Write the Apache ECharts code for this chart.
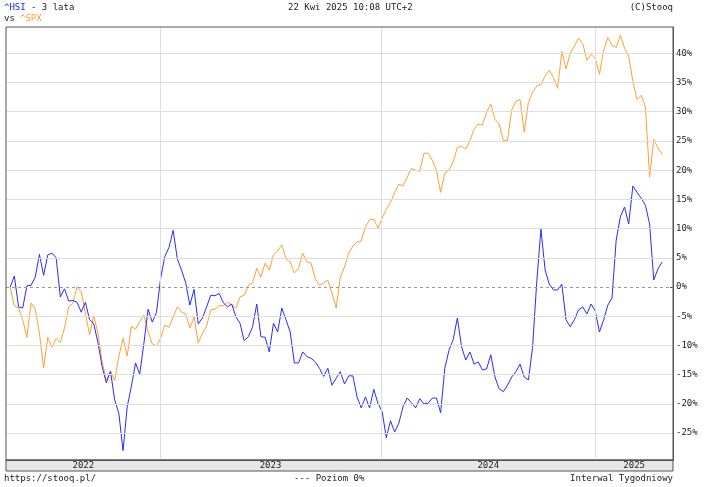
<!DOCTYPE html>
<html>
<head>
<meta charset="utf-8">
<script src="https://cdn.jsdelivr.net/npm/echarts@6/dist/echarts.min.js"></script>
<style>
  html, body { margin: 0; padding: 0; background: #fff; }
  #chart { width: 706px; height: 487px; }
</style>
</head>
<body>
<div id="chart"></div>
<script>
// weekly % change, Apr 2022 .. Apr 2025
const hsi = [
  0, 1.9, -3.4, -3.6, 0.2, 0.3, 1.7, 5.6, 2, 5.5, 5.8, 5, -1.7, -0.3, -2.4, -2.3, -2.6, -4.3, -2.6, -5.6,
  -6.3, -9.5, -13.6, -16.4, -14.4, -19.3, -21.6, -28, -20.5, -17, -13, -14.9, -9.6, -3.8, -6, -4.4, 1.5, 5.2, 6.8, 9.7,
  4.8, 2.9, 0.7, -3.1, -0.4, -6.3, -5.3, -3.4, -1.4, -1.5, -1.1, -2.7,
  -3.4, -2.9, -5.1, -6.2, -9.2, -8.5, -6.8, -2.9, -8.5, -8.6, -11.1, -6.2, -7.7, -3.6, -5.6, -7.7, -13, -13, -11.1, -11.9,
  -12.2, -12.8, -13.9, -15.3, -13.9, -16.8, -15.6, -14.5, -16.6, -15.2, -15.2, -18.8, -20.7, -18.8, -20.7, -17.5, -19.9, -21.3, -25.8, -22.9,
  -24.8, -23.3, -20.5, -19, -19.8, -20.7, -19.1, -20, -19.9, -19, -19, -21.5, -13.9, -10.8, -9, -5.3, -10.2, -12.5,
  -11.1, -13.2, -12.8, -14.2, -14, -11.6, -15.4, -17.4, -17.9, -16.8, -15.4, -14.5, -13.2, -15.4, -15.9, -10.3, 0.9, 9.9, 2.9, 0.5,
  -0.5, -0.5, 0.5, -5.6, -6.8, -5.6, -3.9, -3.4, -4.6, -2.9, -4.1, -7.7, -5.6, -3.1, -1.9, 8, 12, 13.7, 10.8, 17.3,
  16.2, 15.2, 14, 10.8, 1.2, 3.1, 4.3
];
const spx = [
  0, -3.2, -3.6, -5.6, -8.6, -2.7, -3.8, -7.9, -13.9, -8.6, -10.3, -8.8, -9.5, -7, -3.4, -2.8, 0.1, -0.8, -4.5, -8.2,
  -4.9, -7.9, -12.8, -15.9, -14.5, -16, -11.9, -8.8, -11.8, -6.7, -7.2, -5.9, -4.8, -7.7, -9.7, -10.1, -8.8, -6.5, -6.9, -5.1,
  -3.4, -4.3, -4.6, -7, -5.1, -9.6, -7.9, -6.7, -3.9, -3.8, -3.2, -3.2,
  -2.6, -3.1, -3.6, -1.7, -1.4, 0.3, 0.7, 3.2, 1.7, 4.1, 2.9, 5.5, 6.2, 7.2, 4.8, 4.3, 2.4, 3.2, 5.8, 4.3,
  4.1, 1.4, 0.3, 0.7, 1.2, -1, -3.6, 1.7, 3.4, 5.8, 7, 7.7, 7.9, 10.3, 11.5, 11.6, 10.1, 11.8, 13.3, 14.5,
  16.2, 17.6, 17.3, 18.8, 20.3, 20, 19.8, 22.9, 22.9, 21.7, 20, 16.2, 19.5, 20, 21.4, 23.9, 24.1, 23.6,
  25.1, 27, 27.9, 27.7, 29.9, 31.3, 28.7, 27.9, 25.1, 25.1, 30.3, 31.8, 32.1, 26.5, 31.6, 33.3, 34.4, 34.7, 36.1, 37.1,
  35.9, 34, 40.3, 37.3, 40, 41.2, 42.6, 41.7, 38.8, 39.8, 39.1, 36.4, 40.5, 42.7, 41.4, 41, 43.1, 40.9, 39.5, 35.2,
  32.1, 32.8, 30.8, 18.8, 25.3, 23.8, 22.7
];
const yTicks = [-25, -20, -15, -10, -5, 5, 10, 15, 20, 25, 30, 35, 40];
const yearLines = [35.9, 88.8, 140];
const yearLabels = ['2022', '2023', '2024', '2025'];
const yearLabelPos = [17.5, 62.3, 114.4, 149.3];

const FONT = 'DejaVu Sans Mono';
const chart = echarts.init(document.getElementById('chart'));

chart.setOption({
  animation: false,
  grid: { left: 6, right: 33, top: 27, bottom: 27 },
  xAxis: {
    type: 'value', min: -1, max: 158.6,
    splitLine: { show: false },
    axisLine: { onZero: false, lineStyle: { color: '#555' } },
    axisTick: { show: false },
    axisLabel: {
      customValues: yearLabelPos,
      formatter: v => yearLabels[yearLabelPos.indexOf(v)] || '',
      fontFamily: FONT, fontSize: 9, color: '#222', margin: 1
    }
  },
  yAxis: {
    type: 'value', min: -29.6, max: 44.5, position: 'right',
    splitLine: { show: false },
    axisLine: { show: true, onZero: false, lineStyle: { color: '#555' } },
    axisTick: { customValues: yTicks.concat([0]), length: 3, inside: true, lineStyle: { color: '#555' } },
    axisLabel: {
      customValues: yTicks.concat([0]),
      formatter: v => v + '%',
      fontFamily: FONT, fontSize: 9, color: '#222', margin: 3
    }
  },
  graphic: [
    { type: 'rect', shape: { x: 6, y: 460, width: 667, height: 11 },
      style: { fill: '#e6e6e6', stroke: '#555', lineWidth: 1 }, z: -1 },
    { type: 'rect', shape: { x: 6, y: 27, width: 667, height: 433 },
      style: { fill: 'none', stroke: '#555', lineWidth: 1 }, z: 10 },
    { type: 'text', left: 4, top: 3, style: { text: '^HSI', fill: '#2222ff', font: '9px ' + FONT } },
    { type: 'text', left: 31, top: 3, style: { text: '- 3 lata', fill: '#222', font: '9px ' + FONT } },
    { type: 'text', left: 4, top: 14, style: { text: 'vs', fill: '#222', font: '9px ' + FONT } },
    { type: 'text', left: 20, top: 14, style: { text: '^SPX', fill: '#ff9933', font: '9px ' + FONT } },
    { type: 'text', left: 288, top: 3, style: { text: '22 Kwi 2025 10:08 UTC+2', fill: '#222', font: '9px ' + FONT } },
    { type: 'text', right: 33, top: 3, style: { text: '(C)Stooq', fill: '#222', font: '9px ' + FONT } },
    { type: 'text', left: 4, top: 474, style: { text: 'https://stooq.pl/', fill: '#222', font: '9px ' + FONT } },
    { type: 'text', left: 294, top: 474, style: { text: '--- Poziom 0%', fill: '#222', font: '9px ' + FONT } },
    { type: 'text', right: 33, top: 474, style: { text: 'Interwal Tygodniowy', fill: '#222', font: '9px ' + FONT } }
  ],
  series: [
    {
      type: 'line', data: [], silent: true,
      markLine: {
        symbol: 'none', silent: true, label: { show: false },
        lineStyle: { color: '#dddddd', type: 'solid', width: 1 },
        data: yTicks.map(v => ({ yAxis: v })).concat(yearLines.map(v => ({ xAxis: v })))
      }
    },
    {
      type: 'line', data: [], silent: true,
      markLine: {
        symbol: 'none', silent: true, label: { show: false },
        lineStyle: { color: '#999', type: [3, 3], width: 1 },
        data: [{ yAxis: 0 }]
      }
    },
    {
      name: '^SPX', type: 'line', showSymbol: false,
      data: spx.map((v, i) => [i, v]),
      lineStyle: { color: '#ff9f33', width: 1 }, z: 3
    },
    {
      name: '^HSI', type: 'line', showSymbol: false,
      data: hsi.map((v, i) => [i, v]),
      lineStyle: { color: '#2a2aff', width: 1 }, z: 4
    }
  ]
});
</script>
</body>
</html>
